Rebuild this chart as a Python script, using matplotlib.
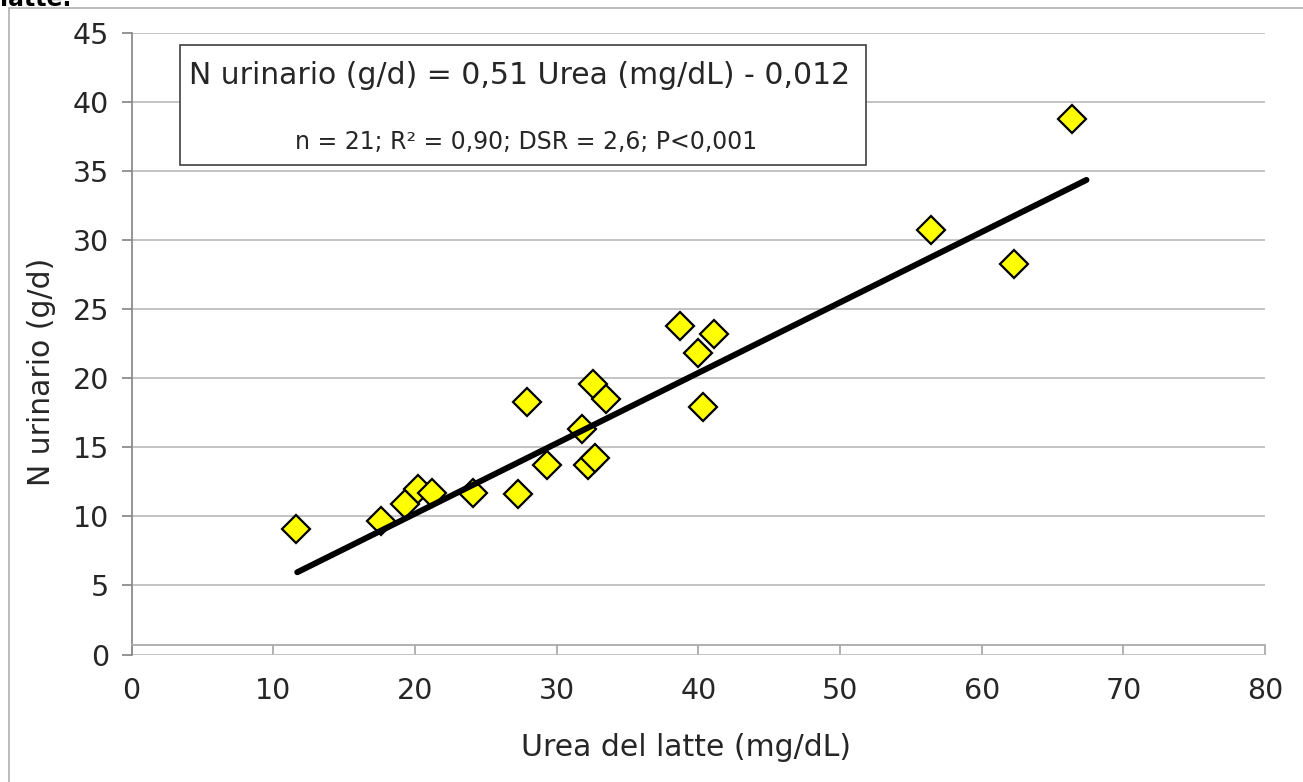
import numpy as np
import matplotlib.pyplot as plt
from matplotlib.patches import Rectangle

# data
urea = [11.6, 17.6, 19.3, 20.2, 21.2, 24.1, 27.3, 27.9, 29.3, 31.8, 32.2,
        32.7, 32.6, 33.5, 38.7, 40.0, 41.1, 40.3, 56.4, 62.3, 66.4]
n_urin = [9.1, 9.7, 10.9, 12.0, 11.7, 11.7, 11.6, 18.3, 13.7, 16.3, 13.7,
          14.2, 19.6, 18.5, 23.8, 21.8, 23.2, 17.9, 30.7, 28.3, 38.8]

slope = 0.51
intercept = -0.012
trend_x = [11.7, 67.4]

x_ticks = [0, 10, 20, 30, 40, 50, 60, 70, 80]
y_ticks = [0, 5, 10, 15, 20, 25, 30, 35, 40, 45]

eq_text = "N urinario (g/d) = 0,51 Urea (mg/dL) - 0,012"
stat_text = "n = 21; R² = 0,90; DSR = 2,6; P<0,001"

plt.rcParams["font.family"] = "DejaVu Sans"

W, H = 1303, 782
fig = plt.figure(figsize=(W / 100, H / 100), dpi=100)

# outer chart frame (cropped at right and bottom in the reference)
fig.patches.append(Rectangle((9 / W, -0.1), 1.2, 1 - 8 / H + 0.1,
                             transform=fig.transFigure, fill=False,
                             edgecolor="#B0B0B0", linewidth=1.2))
# title line above the chart, cut off by the top edge as in the reference
fig.text(0.0, 1 - 6 / H, "latte.", fontsize=17, fontweight="bold",
         va="baseline", ha="left", color="black")

ax = fig.add_axes([131.5 / W, (H - 654.5) / H, 1133.5 / W, 621.5 / H])
ax.set_xlim(0, 80)
ax.set_ylim(0, 45)

ax.set_yticks(y_ticks)
ax.set_xticks(x_ticks)
ax.yaxis.grid(True, color="#BEBEBE", linewidth=1.3)
ax.set_axisbelow(True)

for s in ["top", "right"]:
    ax.spines[s].set_visible(False)
ax.spines["left"].set_color("#8C8C8C")
ax.spines["left"].set_linewidth(1.3)
ax.spines["bottom"].set_color("#AAAAAA")
ax.spines["bottom"].set_linewidth(1.3)
ax.spines["bottom"].set_position(("outward", -7.2))

ax.tick_params(axis="y", direction="out", length=7.2, width=1.3,
               color="#8C8C8C", labelsize=20.5, pad=9, labelcolor="#262626")
ax.tick_params(axis="x", direction="out", length=7.2, width=1.3,
               color="#AAAAAA", labelsize=20.5, pad=16, labelcolor="#262626")

ax.plot(urea, n_urin, linestyle="none", marker="D", markersize=14,
        markerfacecolor="#FFFF00", markeredgecolor="black",
        markeredgewidth=1.6, zorder=3)

tx = np.array(trend_x)
ax.plot(tx, slope * tx + intercept, color="black", linewidth=4.3,
        solid_capstyle="round", zorder=4)

# equation box
fig.patches.append(Rectangle((180 / W, 1 - 165 / H), 686 / W, 120 / H,
                             transform=fig.transFigure, facecolor="white",
                             edgecolor="#404040", linewidth=1.2, zorder=5))
fig.text(520 / W, 1 - 75 / H, eq_text, fontsize=21.5, ha="center",
         va="center", color="#262626", zorder=6)
fig.text(526 / W, 1 - 142 / H, stat_text, fontsize=17, ha="center",
         va="center", color="#262626", zorder=6)

fig.text(686 / W, 1 - 748 / H, "Urea del latte (mg/dL)", fontsize=21.5,
         ha="center", va="center", color="#262626")
fig.text(42 / W, 1 - 372 / H, "N urinario (g/d)", fontsize=21.5,
         ha="center", va="center", rotation=90, color="#262626")

fig.savefig("out.png", dpi=100)
